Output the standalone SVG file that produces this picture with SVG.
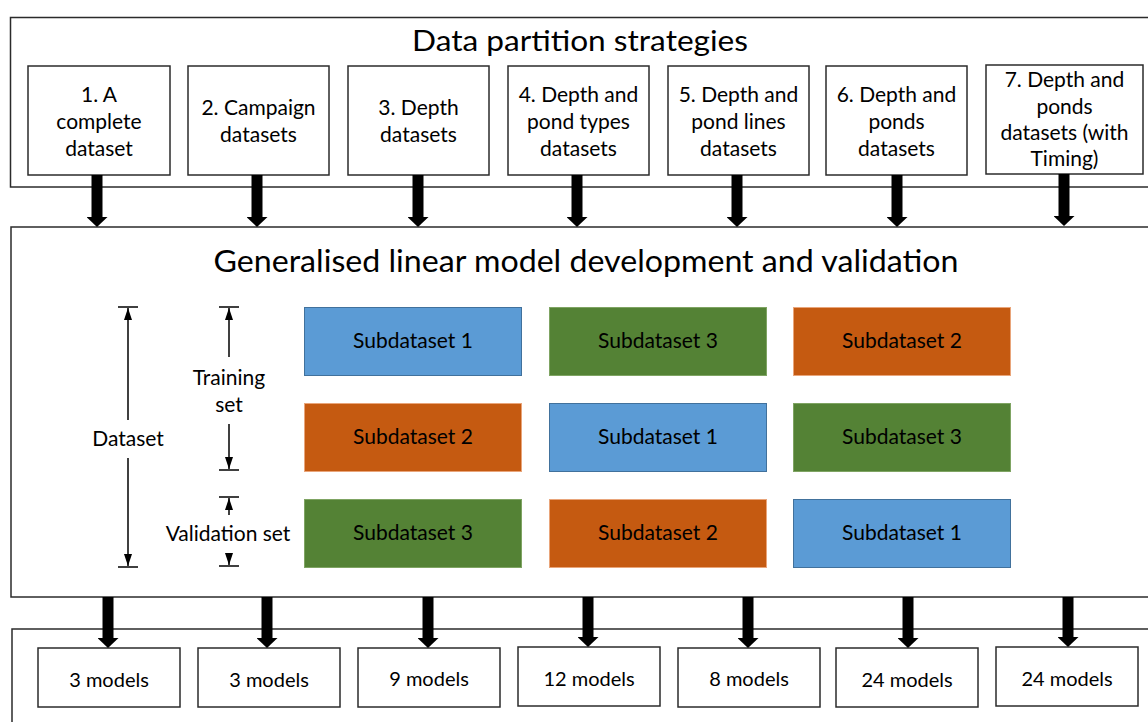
<svg xmlns="http://www.w3.org/2000/svg" width="1148" height="722" viewBox="0 0 1148 722">
  <style>
    .frame { fill: #fff; stroke: #2b2b2b; stroke-width: 1.5; }
    .box { fill: #fff; stroke: #2b2b2b; stroke-width: 1.5; }
    .t { font-family: Lato, "Liberation Sans", sans-serif; fill: #000; text-anchor: middle; }
    .title { font-size: 28px; }
    .big { font-size: 31px; }
    .lbl { font-size: 21px; }
    .sub { font-size: 21px; }
    .dl { font-size: 21px; }
    .mdl { font-size: 20px; }
    .blue { fill: #5B9BD5; stroke: #41719C; stroke-width: 1; }
    .orange { fill: #C55A11; stroke: #E9A57A; stroke-width: 1; }
    .green { fill: #548235; stroke: #7FA463; stroke-width: 1; }
    .thick { stroke: #000; stroke-width: 11; marker-end: url(#bighead); }
    .dim { stroke: #000; stroke-width: 1.5; }
    .dimarrow { stroke: #000; stroke-width: 1.5; marker-end: url(#smallhead); }
  </style>
  <defs>
    <marker id="bighead" viewBox="0 0 10 21" refX="0" refY="10.5" markerWidth="10" markerHeight="21" markerUnits="userSpaceOnUse" orient="auto">
      <path d="M0,0 L10,10.5 L0,21 Z" fill="#000"/>
    </marker>
    <marker id="smallhead" viewBox="0 0 12 8" refX="12" refY="4" markerWidth="12" markerHeight="8" markerUnits="userSpaceOnUse" orient="auto">
      <path d="M0,0 L12,4 L0,8 Z" fill="#000"/>
    </marker>
  </defs>

  <!-- Frames -->
  <g id="frame-partition">
    <rect class="frame" x="10.5" y="17.5" width="1160" height="169.5"/>
    <text class="t title" x="580" y="51" textLength="336" lengthAdjust="spacingAndGlyphs">Data partition strategies</text>
  </g>
  <g id="frame-glm">
    <rect class="frame" x="11" y="227" width="1160" height="370"/>
    <text class="t big" x="586" y="272" textLength="745" lengthAdjust="spacingAndGlyphs">Generalised linear model development and validation</text>
  </g>
  <g id="frame-models">
    <rect class="frame" x="12" y="629" width="1160" height="120"/>
  </g>

  <!-- Strategy nodes -->
  <g id="s1"><rect class="box" x="28" y="66" width="142" height="109"/>
    <text class="t lbl" x="99" y="102">1. A</text><text class="t lbl" x="99" y="129">complete</text><text class="t lbl" x="99" y="156">dataset</text></g>
  <g id="s2"><rect class="box" x="188" y="66" width="141" height="109"/>
    <text class="t lbl" x="258.5" y="115">2. Campaign</text><text class="t lbl" x="258.5" y="142">datasets</text></g>
  <g id="s3"><rect class="box" x="348" y="66" width="141" height="109"/>
    <text class="t lbl" x="418.5" y="115">3. Depth</text><text class="t lbl" x="418.5" y="142">datasets</text></g>
  <g id="s4"><rect class="box" x="508" y="66" width="141" height="109"/>
    <text class="t lbl" x="578.5" y="102">4. Depth and</text><text class="t lbl" x="578.5" y="129">pond types</text><text class="t lbl" x="578.5" y="156">datasets</text></g>
  <g id="s5"><rect class="box" x="668" y="66" width="141" height="109"/>
    <text class="t lbl" x="738.5" y="102">5. Depth and</text><text class="t lbl" x="738.5" y="129">pond lines</text><text class="t lbl" x="738.5" y="156">datasets</text></g>
  <g id="s6"><rect class="box" x="826" y="66" width="141" height="109"/>
    <text class="t lbl" x="896.5" y="102">6. Depth and</text><text class="t lbl" x="896.5" y="129">ponds</text><text class="t lbl" x="896.5" y="156">datasets</text></g>
  <g id="s7"><rect class="box" x="986" y="65" width="157" height="109"/>
    <text class="t lbl" x="1064.5" y="87">7. Depth and</text><text class="t lbl" x="1064.5" y="113.5">ponds</text><text class="t lbl" x="1064.5" y="140">datasets (with</text><text class="t lbl" x="1064.5" y="166">Timing)</text></g>

  <!-- Subdataset grid -->
  <g id="sub-r1c1"><rect class="blue" x="304.5" y="307.5" width="217" height="68"/><text class="t sub" x="413" y="348">Subdataset 1</text></g>
  <g id="sub-r1c2"><rect class="green" x="549.5" y="307.5" width="217" height="68"/><text class="t sub" x="658" y="348">Subdataset 3</text></g>
  <g id="sub-r1c3"><rect class="orange" x="793.5" y="307.5" width="217" height="68"/><text class="t sub" x="902" y="348">Subdataset 2</text></g>
  <g id="sub-r2c1"><rect class="orange" x="304.5" y="403.5" width="217" height="68"/><text class="t sub" x="413" y="444">Subdataset 2</text></g>
  <g id="sub-r2c2"><rect class="blue" x="549.5" y="403.5" width="217" height="68"/><text class="t sub" x="658" y="444">Subdataset 1</text></g>
  <g id="sub-r2c3"><rect class="green" x="793.5" y="403.5" width="217" height="68"/><text class="t sub" x="902" y="444">Subdataset 3</text></g>
  <g id="sub-r3c1"><rect class="green" x="304.5" y="499.5" width="217" height="68"/><text class="t sub" x="413" y="540">Subdataset 3</text></g>
  <g id="sub-r3c2"><rect class="orange" x="549.5" y="499.5" width="217" height="68"/><text class="t sub" x="658" y="540">Subdataset 2</text></g>
  <g id="sub-r3c3"><rect class="blue" x="793.5" y="499.5" width="217" height="68"/><text class="t sub" x="902" y="540">Subdataset 1</text></g>

  <!-- Dimension labels -->
  <g id="dim-dataset">
    <line class="dim" x1="118" y1="307" x2="138" y2="307"/>
    <line class="dim" x1="118" y1="567" x2="138" y2="567"/>
    <line class="dimarrow" x1="128" y1="420" x2="128" y2="308"/>
    <line class="dimarrow" x1="128" y1="458" x2="128" y2="566"/>
    <text class="t dl" x="128" y="446">Dataset</text>
  </g>
  <g id="dim-training">
    <line class="dim" x1="219" y1="307" x2="239" y2="307"/>
    <line class="dim" x1="219" y1="470" x2="239" y2="470"/>
    <line class="dimarrow" x1="229" y1="357" x2="229" y2="308"/>
    <line class="dimarrow" x1="229" y1="424" x2="229" y2="469"/>
    <text class="t dl" x="229" y="385">Training</text>
    <text class="t dl" x="229" y="412">set</text>
  </g>
  <g id="dim-validation">
    <line class="dim" x1="219" y1="497" x2="239" y2="497"/>
    <line class="dim" x1="219" y1="566" x2="239" y2="566"/>
    <line class="dimarrow" x1="229" y1="515" x2="229" y2="498"/>
    <line class="dimarrow" x1="229" y1="553" x2="229" y2="565"/>
    <text class="t dl" x="228" y="541">Validation set</text>
  </g>

  <!-- Model count nodes -->
  <g id="m1"><rect class="box" x="38" y="648" width="142" height="59"/><text class="t mdl" x="109" y="687">3 models</text></g>
  <g id="m2"><rect class="box" x="198" y="648" width="142" height="59"/><text class="t mdl" x="269" y="687">3 models</text></g>
  <g id="m3"><rect class="box" x="358" y="648" width="142" height="59"/><text class="t mdl" x="429" y="686">9 models</text></g>
  <g id="m4"><rect class="box" x="518" y="647" width="142" height="59"/><text class="t mdl" x="589" y="686">12 models</text></g>
  <g id="m5"><rect class="box" x="678" y="648" width="142" height="59"/><text class="t mdl" x="749" y="686">8 models</text></g>
  <g id="m6"><rect class="box" x="836" y="648" width="142" height="59"/><text class="t mdl" x="907" y="687">24 models</text></g>
  <g id="m7"><rect class="box" x="996" y="647" width="142" height="59"/><text class="t mdl" x="1067" y="686">24 models</text></g>

  <!-- Connectors -->
  <g id="connectors">
    <line class="thick" x1="97" y1="175" x2="97" y2="217"/>
    <line class="thick" x1="257" y1="175" x2="257" y2="217"/>
    <line class="thick" x1="418" y1="175" x2="418" y2="217"/>
    <line class="thick" x1="577" y1="175" x2="577" y2="217"/>
    <line class="thick" x1="737" y1="175" x2="737" y2="217"/>
    <line class="thick" x1="897" y1="175" x2="897" y2="217"/>
    <line class="thick" x1="1064" y1="174" x2="1064" y2="216"/>
    <line class="thick" x1="108" y1="597" x2="108" y2="638"/>
    <line class="thick" x1="267" y1="597" x2="267" y2="638"/>
    <line class="thick" x1="428" y1="597" x2="428" y2="638"/>
    <line class="thick" x1="588" y1="597" x2="588" y2="637"/>
    <line class="thick" x1="748" y1="597" x2="748" y2="638"/>
    <line class="thick" x1="908" y1="597" x2="908" y2="638"/>
    <line class="thick" x1="1068" y1="597" x2="1068" y2="637"/>
  </g>
</svg>
